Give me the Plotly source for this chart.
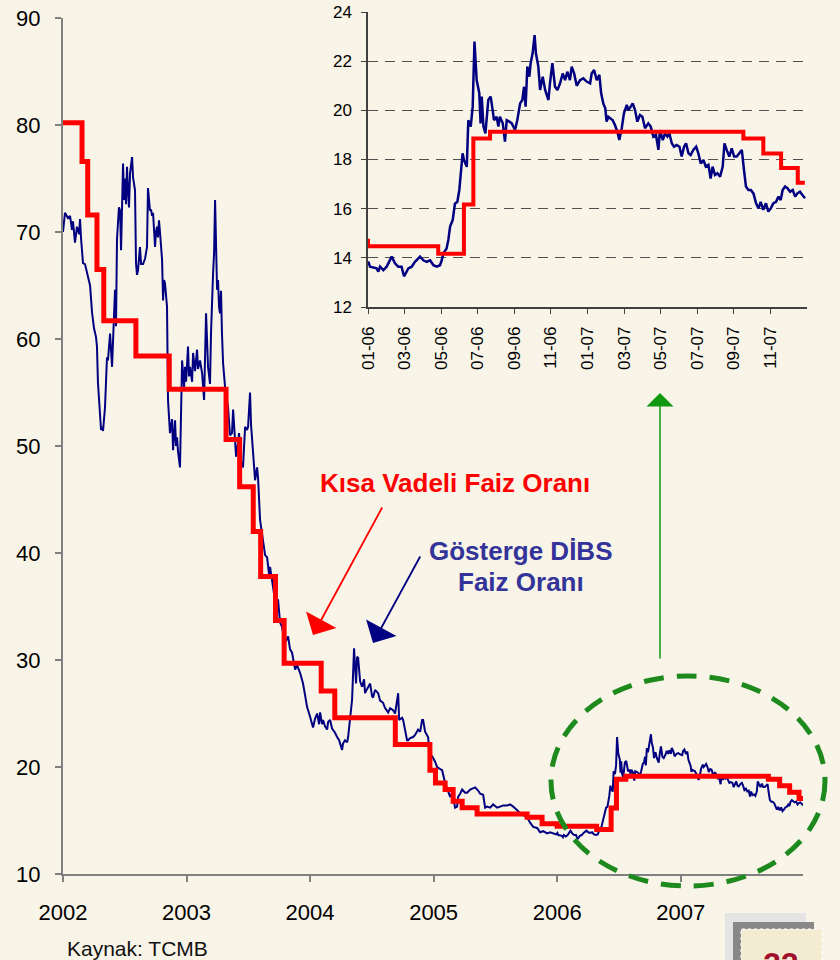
import plotly.graph_objects as go

# ---------------- data ----------------
blue_year = [
    2002.000, 2002.016, 2002.040, 2002.057, 2002.073, 2002.081, 2002.097, 2002.113, 2002.130, 2002.138,
    2002.146, 2002.162, 2002.178, 2002.194, 2002.211, 2002.219, 2002.235, 2002.251, 2002.267, 2002.275,
    2002.283, 2002.300, 2002.308, 2002.316, 2002.324, 2002.340, 2002.356, 2002.364, 2002.381, 2002.397,
    2002.413, 2002.421, 2002.429, 2002.437, 2002.453, 2002.462, 2002.470, 2002.486, 2002.494, 2002.502,
    2002.510, 2002.518, 2002.526, 2002.534, 2002.543, 2002.559, 2002.567, 2002.583, 2002.591, 2002.599,
    2002.607, 2002.623, 2002.632, 2002.648, 2002.664, 2002.680, 2002.688, 2002.704, 2002.713, 2002.721,
    2002.729, 2002.745, 2002.753, 2002.761, 2002.769, 2002.777, 2002.785, 2002.802, 2002.810, 2002.818,
    2002.826, 2002.834, 2002.842, 2002.850, 2002.866, 2002.883, 2002.891, 2002.907, 2002.915, 2002.923,
    2002.931, 2002.947, 2002.955, 2002.964, 2002.980, 2002.988, 2002.996, 2003.012, 2003.020, 2003.028,
    2003.045, 2003.053, 2003.069, 2003.085, 2003.093, 2003.109, 2003.126, 2003.142, 2003.158, 2003.166,
    2003.174, 2003.190, 2003.198, 2003.215, 2003.223, 2003.231, 2003.239, 2003.247, 2003.255, 2003.263,
    2003.271, 2003.279, 2003.287, 2003.296, 2003.312, 2003.336, 2003.352, 2003.368, 2003.377, 2003.385,
    2003.401, 2003.409, 2003.425, 2003.441, 2003.457, 2003.474, 2003.490, 2003.498, 2003.514, 2003.522,
    2003.538, 2003.555, 2003.571, 2003.579, 2003.595, 2003.611, 2003.619, 2003.636, 2003.652, 2003.668,
    2003.676, 2003.692, 2003.700, 2003.717, 2003.725, 2003.741, 2003.757, 2003.773, 2003.789, 2003.798,
    2003.822, 2003.838, 2003.854, 2003.879, 2003.895, 2003.919, 2003.943, 2003.960, 2003.976, 2004.000,
    2004.016, 2004.024, 2004.040, 2004.057, 2004.073, 2004.081, 2004.097, 2004.105, 2004.121, 2004.138,
    2004.146, 2004.162, 2004.178, 2004.186, 2004.202, 2004.219, 2004.235, 2004.259, 2004.267, 2004.283,
    2004.300, 2004.308, 2004.324, 2004.340, 2004.356, 2004.364, 2004.372, 2004.381, 2004.389, 2004.405,
    2004.421, 2004.437, 2004.445, 2004.462, 2004.486, 2004.502, 2004.510, 2004.526, 2004.551, 2004.567,
    2004.591, 2004.607, 2004.632, 2004.648, 2004.672, 2004.688, 2004.713, 2004.721, 2004.745, 2004.753,
    2004.769, 2004.785, 2004.794, 2004.810, 2004.834, 2004.850, 2004.874, 2004.891, 2004.907, 2004.915,
    2004.931, 2004.955, 2004.972, 2004.988, 2005.012, 2005.028, 2005.053, 2005.069, 2005.093, 2005.117,
    2005.134, 2005.150, 2005.174, 2005.190, 2005.198, 2005.215, 2005.231, 2005.255, 2005.271, 2005.296,
    2005.312, 2005.336, 2005.360, 2005.377, 2005.401, 2005.417, 2005.433, 2005.457, 2005.482, 2005.514,
    2005.538, 2005.563, 2005.595, 2005.619, 2005.644, 2005.660, 2005.676, 2005.700, 2005.725, 2005.757,
    2005.781, 2005.806, 2005.838, 2005.862, 2005.887, 2005.919, 2005.943, 2005.968, 2005.992,
    2006.002, 2006.009, 2006.039, 2006.047, 2006.055, 2006.070, 2006.085, 2006.100, 2006.108, 2006.123,
    2006.138, 2006.153, 2006.164, 2006.184, 2006.199, 2006.214, 2006.229, 2006.237, 2006.252, 2006.267,
    2006.283, 2006.298, 2006.313, 2006.328, 2006.336, 2006.343, 2006.358, 2006.366, 2006.374, 2006.386,
    2006.396, 2006.407, 2006.416, 2006.422, 2006.431, 2006.437, 2006.450, 2006.457, 2006.468, 2006.477,
    2006.485, 2006.495, 2006.507, 2006.513, 2006.518, 2006.526, 2006.535, 2006.548, 2006.559, 2006.568,
    2006.574, 2006.586, 2006.594, 2006.601, 2006.614, 2006.624, 2006.632, 2006.644, 2006.655, 2006.662,
    2006.670, 2006.680, 2006.693, 2006.703, 2006.711, 2006.718, 2006.726, 2006.735, 2006.741, 2006.750,
    2006.759, 2006.765, 2006.776, 2006.784, 2006.796, 2006.807, 2006.822, 2006.829, 2006.840, 2006.852,
    2006.863, 2006.875, 2006.887, 2006.898, 2006.908, 2006.920, 2006.928, 2006.939, 2006.951, 2006.966,
    2006.981, 2006.996, 2007.012, 2007.019, 2007.030, 2007.042, 2007.054, 2007.062, 2007.072, 2007.081,
    2007.087, 2007.095, 2007.106, 2007.115, 2007.125, 2007.136, 2007.145, 2007.156, 2007.166, 2007.179,
    2007.186, 2007.197, 2007.206, 2007.217, 2007.227, 2007.239, 2007.250, 2007.262, 2007.277, 2007.288,
    2007.300, 2007.312, 2007.323, 2007.330, 2007.343, 2007.353, 2007.364, 2007.373, 2007.384, 2007.394,
    2007.406, 2007.419, 2007.429, 2007.440, 2007.449, 2007.460, 2007.470, 2007.482, 2007.495, 2007.505,
    2007.516, 2007.528, 2007.539, 2007.551, 2007.561, 2007.570, 2007.581, 2007.592, 2007.604, 2007.616,
    2007.624, 2007.634, 2007.646, 2007.657, 2007.668, 2007.680, 2007.692, 2007.703, 2007.713, 2007.722,
    2007.733, 2007.744, 2007.756, 2007.768, 2007.779, 2007.789, 2007.801, 2007.813, 2007.824, 2007.835,
    2007.847, 2007.859, 2007.870, 2007.880, 2007.889, 2007.900, 2007.911, 2007.923, 2007.935, 2007.946,
    2007.956, 2007.968, 2007.979, 2007.991,
]
blue_rate = [
    70.0, 71.8, 71.3, 71.5, 70.2, 71.0, 69.0, 70.5, 69.8, 71.2,
    69.4, 67.1, 67.0, 66.2, 65.6, 65.0, 62.5, 61.0, 60.2, 59.3,
    55.9, 53.4, 51.5, 51.8, 51.4, 53.6, 58.3, 58.0, 60.5, 57.4,
    62.0, 64.6, 61.2, 69.3, 72.3, 72.0, 68.3, 76.4, 73.0, 75.0,
    72.6, 76.1, 74.0, 72.3, 75.5, 77.0, 75.1, 73.9, 67.1, 66.0,
    66.4, 68.6, 67.0, 67.0, 67.5, 68.6, 74.1, 72.0, 72.1, 71.5,
    71.8, 68.6, 70.0, 70.5, 69.5, 71.1, 70.0, 67.4, 63.6, 65.5,
    65.2, 63.5, 63.0, 54.3, 51.2, 52.5, 49.6, 52.4, 50.0, 50.8,
    49.5, 48.0, 52.0, 58.0, 55.5, 57.4, 56.0, 59.3, 56.5, 57.4,
    56.0, 58.7, 57.0, 59.0, 57.2, 58.0, 56.8, 54.3, 62.4, 60.0,
    57.4, 55.8, 60.5, 66.2, 68.0, 73.0, 68.0, 64.6, 65.5, 63.0,
    62.4, 64.5, 60.5, 57.7, 55.5, 53.6, 51.0, 51.2, 53.4, 52.0,
    49.0, 49.6, 51.2, 48.5, 48.0, 51.8, 51.5, 51.8, 55.0, 52.0,
    49.6, 46.8, 48.0, 47.0, 43.1, 41.8, 41.2, 39.8, 39.6, 38.0,
    38.7, 37.5, 36.8, 35.5, 35.7, 35.6, 33.5, 33.1, 32.0, 31.6,
    32.2, 31.0, 30.7, 29.1, 29.5, 28.8, 27.8, 26.8, 25.6, 24.7,
    23.8, 23.7, 24.5, 25.0, 24.0, 25.1, 24.0, 24.4, 23.8, 23.5,
    24.2, 24.4, 23.6, 23.5, 23.2, 22.8, 22.5, 21.6, 22.2, 22.5,
    22.3, 22.8, 24.4, 26.3, 31.1, 28.5, 27.8, 30.3, 30.2, 28.0,
    27.5, 28.2, 26.9, 27.3, 27.8, 26.6, 26.5, 27.2, 26.9, 26.2,
    26.0, 25.5, 25.1, 25.5, 25.3, 25.0, 26.9, 24.4, 24.6, 24.4,
    23.6, 22.5, 22.5, 22.7, 22.8, 23.0, 23.5, 23.3, 24.4, 24.4,
    23.3, 22.8, 21.0, 21.0, 20.5, 20.0, 19.8, 19.7, 18.5, 17.8,
    17.2, 17.6, 16.2, 16.3, 17.2, 17.5, 17.9, 17.6, 17.6, 17.9,
    18.0, 18.1, 17.8, 17.5, 17.4, 16.2, 16.3, 16.2, 16.5, 16.2,
    16.3, 16.4, 16.4, 16.5, 16.3, 16.1, 16.0, 15.7, 15.5, 15.3,
    14.8, 14.4, 14.3, 13.9, 14.0, 13.8, 13.9, 13.8, 13.7,
    13.84, 13.64, 13.57, 13.44, 13.64, 13.50, 13.64, 13.90, 14.05, 13.78,
    13.64, 13.64, 13.25, 13.57, 13.64, 13.84, 13.98, 14.05, 13.90, 13.84,
    13.90, 13.70, 13.64, 13.70, 13.90, 14.18, 14.38, 14.73, 15.27, 15.54,
    16.20, 16.28, 16.76, 17.30, 18.25, 17.98, 17.70, 19.60, 19.34, 20.15,
    22.80, 21.23, 20.70, 19.47, 20.56, 19.34, 19.06, 20.42, 20.56, 20.00,
    19.60, 19.74, 19.34, 19.74, 19.47, 18.73, 19.60, 19.54, 19.47, 19.34,
    19.20, 19.60, 20.28, 20.42, 20.96, 20.15, 21.78, 21.37, 21.92, 22.32,
    23.06, 22.32, 21.78, 20.83, 21.37, 20.83, 20.42, 21.10, 21.92, 20.96,
    20.83, 21.10, 21.50, 21.23, 21.57, 21.23, 21.78, 21.50, 21.00, 21.23,
    21.30, 21.17, 21.10, 21.50, 21.64, 21.23, 21.44, 20.70, 20.28, 20.08,
    19.54, 19.74, 19.67, 19.60, 19.40, 19.13, 18.79, 19.27, 19.88, 20.22,
    20.00, 20.15, 20.28, 20.00, 19.54, 19.81, 19.74, 19.27, 19.47, 19.34,
    18.93, 19.00, 18.39, 19.20, 18.79, 19.06, 18.93, 19.06, 18.66, 18.52,
    18.59, 18.52, 18.12, 18.52, 18.66, 18.25, 18.18, 18.39, 18.52, 18.25,
    17.84, 17.98, 17.71, 17.78, 17.23, 17.71, 17.37, 17.44, 17.30, 17.71,
    18.66, 18.39, 18.12, 18.45, 18.12, 18.12, 18.25, 18.39, 17.57, 16.90,
    16.76, 16.76, 16.62, 16.22, 16.01, 16.28, 15.95, 16.22, 15.88, 16.01,
    16.22, 16.28, 16.49, 16.35, 16.76, 16.90, 16.83, 16.69, 16.76, 16.49,
    16.62, 16.69, 16.56, 16.42,
]

red_year = [2002.000, 2002.154, 2002.200, 2002.275, 2002.330, 2002.590, 2002.860, 2003.320,
            2003.430, 2003.540, 2003.600, 2003.720, 2003.790, 2004.090, 2004.200, 2004.690,
            2004.970, 2005.015, 2005.093, 2005.158, 2005.231, 2005.352, 2005.757, 2005.878,
            2006.000, 2006.320, 2006.437, 2006.480, 2006.556, 2007.710, 2007.801, 2007.882,
            2007.958, 2007.990]
red_rate = [80.2, 76.6, 71.6, 66.5, 61.7, 58.4, 55.3, 50.6,
            46.2, 42.0, 37.8, 33.7, 29.7, 27.1, 24.6, 22.1,
            19.7, 18.5, 17.9, 16.8, 16.2, 15.6, 15.3, 14.7,
            14.47, 14.17, 16.17, 18.85, 19.13, 18.85, 18.24, 17.65,
            17.05, 17.05]

main_year_ticks = [2002, 2003, 2004, 2005, 2006, 2007]
main_year_labels = ["2002", "2003", "2004", "2005", "2006", "2007"]
inset_tick_pos = [2006 + k / 6 for k in range(12)]
inset_tick_labels = ["01-06", "03-06", "05-06", "07-06", "09-06", "11-06",
                     "01-07", "03-07", "05-07", "07-07", "09-07", "11-07"]

BG = "#F9F4E8"
FONT = "Liberation Sans, Arial, sans-serif"
W, H = 840, 960


def px(x):
    return x / W


def py(y):
    return 1 - y / H


fig = go.Figure()

# main chart
fig.add_trace(go.Scatter(x=blue_year, y=blue_rate, mode="lines",
                         line=dict(color="#000080", width=2), xaxis="x", yaxis="y",
                         hoverinfo="skip"))
fig.add_trace(go.Scatter(x=red_year, y=red_rate, mode="lines", line_shape="hv",
                         line=dict(color="#FF0000", width=5), xaxis="x", yaxis="y",
                         hoverinfo="skip"))
# inset chart
fig.add_trace(go.Scatter(x=blue_year, y=blue_rate, mode="lines",
                         line=dict(color="#000080", width=2.5), xaxis="x2", yaxis="y2",
                         hoverinfo="skip"))
fig.add_trace(go.Scatter(x=red_year, y=red_rate, mode="lines", line_shape="hv",
                         line=dict(color="#FF0000", width=4), xaxis="x2", yaxis="y2",
                         hoverinfo="skip"))

axis_font = dict(family=FONT, size=22, color="#000000")
inset_font = dict(family=FONT, size=17, color="#000000")

fig.update_layout(
    width=W, height=H,
    margin=dict(l=0, r=0, t=0, b=0, autoexpand=False),
    paper_bgcolor=BG, plot_bgcolor=BG,
    showlegend=False,
    xaxis=dict(domain=[px(63), px(803)], range=[2002, 2007.99], anchor="y", automargin=False,
               tickmode="array", tickvals=main_year_ticks, ticktext=main_year_labels,
               showline=True, linecolor="#808080", linewidth=2,
               ticks="outside", ticklen=6, tickcolor="#808080", tickwidth=1.5,
               showgrid=False, zeroline=False, tickfont=axis_font, ticklabelstandoff=12),
    yaxis=dict(domain=[py(874), py(18)], range=[10, 90], anchor="x", automargin=False,
               tickmode="array", tickvals=[10, 20, 30, 40, 50, 60, 70, 80, 90],
               showline=True, linecolor="#808080", linewidth=2,
               ticks="outside", ticklen=6, tickcolor="#808080", tickwidth=1.5,
               showgrid=False, zeroline=False, tickfont=axis_font, ticklabelstandoff=10),
    xaxis2=dict(domain=[px(368), px(807)], range=[2006, 2008], anchor="y2", automargin=False,
                tickmode="array", tickvals=inset_tick_pos, ticktext=inset_tick_labels,
                tickangle=-90, showline=True, linecolor="#404040", linewidth=1.5,
                ticks="outside", ticklen=5, tickcolor="#404040",
                showgrid=False, zeroline=False, tickfont=inset_font, ticklabelstandoff=6),
    yaxis2=dict(domain=[py(307), py(12)], range=[12, 24], anchor="x2", automargin=False,
                tickmode="array", tickvals=[12, 14, 16, 18, 20, 22, 24],
                showline=True, linecolor="#404040", linewidth=1.5,
                ticks="outside", ticklen=5, tickcolor="#404040",
                showgrid=True, gridcolor="#505050", gridwidth=1, griddash="10px,7px",
                zeroline=False, tickfont=inset_font, ticklabelstandoff=6),
)

shapes = [
    # dashed green ellipse
    dict(type="circle", xref="paper", yref="paper",
         x0=px(551), x1=px(825), y0=py(886), y1=py(676),
         line=dict(color="#1E8A1E", width=5, dash="20px,13px"), layer="above"),
    # page-number box
    dict(type="rect", xref="paper", yref="paper", x0=px(725), x1=px(806), y0=py(975), y1=py(913),
         fillcolor="#E4E4E4", line=dict(width=0)),
    dict(type="rect", xref="paper", yref="paper", x0=px(733), x1=px(814), y0=py(975), y1=py(922),
         fillcolor="#888888", line=dict(width=0)),
    dict(type="rect", xref="paper", yref="paper", x0=px(741), x1=px(822), y0=py(975), y1=py(929),
         fillcolor="#F4ECD2", line=dict(color="#FFFFFF", width=1, dash="dot")),
]
fig.update_layout(shapes=shapes)

ann = [
    dict(text="<b>Kısa Vadeli Faiz Oranı</b>", x=px(455), y=py(483), xref="paper", yref="paper",
         showarrow=False, font=dict(family=FONT, size=26, color="#FF0000"),
         xanchor="center", yanchor="middle"),
    dict(text="<b>Gösterge DİBS</b>", x=px(521), y=py(551), xref="paper", yref="paper",
         showarrow=False, font=dict(family=FONT, size=26, color="#333399"),
         xanchor="center", yanchor="middle"),
    dict(text="<b>Faiz Oranı</b>", x=px(521), y=py(582), xref="paper", yref="paper",
         showarrow=False, font=dict(family=FONT, size=26, color="#333399"),
         xanchor="center", yanchor="middle"),
    # arrows
    dict(text="", x=px(313), y=py(635), xref="paper", yref="paper", ax=70, ay=-129,
         showarrow=True, arrowhead=1, arrowsize=3.2, arrowwidth=1.8, arrowcolor="#FF0000"),
    dict(text="", x=px(373), y=py(643), xref="paper", yref="paper", ax=48, ay=-88,
         showarrow=True, arrowhead=1, arrowsize=3.2, arrowwidth=1.8, arrowcolor="#000080"),
    dict(text="", x=px(660), y=py(393), xref="paper", yref="paper", ax=0, ay=267,
         showarrow=True, arrowhead=1, arrowsize=3.0, arrowwidth=1.5, arrowcolor="#119911"),
    dict(text="Kaynak: TCMB", x=px(65), y=py(948), xref="paper", yref="paper",
         showarrow=False, font=dict(family=FONT, size=21, color="#111111"),
         xanchor="left", yanchor="middle"),
    dict(text="<b>22</b>", x=px(781), y=py(944), xref="paper", yref="paper",
         showarrow=False, font=dict(family=FONT, size=32, color="#A0102A"),
         xanchor="center", yanchor="top"),
]
fig.update_layout(annotations=ann)

fig.write_html("out.html",
               config={"displayModeBar": False},
               post_script="document.body.style.margin='0px';"
                           "document.body.style.padding='0px';"
                           "document.body.style.overflow='hidden';")
